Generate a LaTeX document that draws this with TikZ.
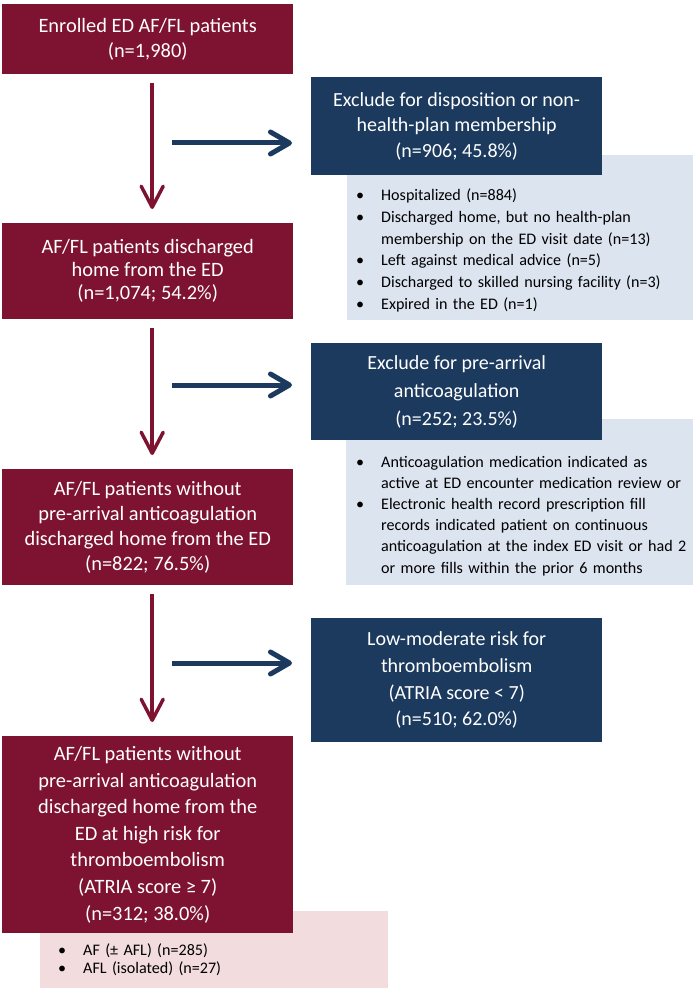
\documentclass[tikz,border=0pt]{standalone}
\usepackage{fontspec}
\setmainfont{Carlito}
\usetikzlibrary{arrows.meta}
\definecolor{maroon}{HTML}{7E1331}
\definecolor{navy}{HTML}{1B3A5E}
\definecolor{lightblu}{HTML}{DCE4F0}
\definecolor{pinkish}{HTML}{F2DCDD}
\newcommand\bitem[1]{\hangindent=25pt\hangafter=1\noindent\makebox[25pt][l]{\textbullet}#1\par}
\newcommand\nl{\hfil\break}
\begin{document}
\begin{tikzpicture}[x=1pt,y=-1pt,
  box/.style={anchor=north west, inner sep=0pt, align=center, text=white,
    font=\fontsize{20}{25.5}\selectfont},
  redbox/.style={box, fill=maroon},
  navybox/.style={box, fill=navy},
  listbox/.style={anchor=north west, inner sep=0pt},
  bullets/.style={anchor=base west, inner sep=0pt, text width=335pt,
    font=\fontsize{16.1}{21.6}\selectfont},
  redarrow/.style={draw=maroon, line width=3.5pt,
    -{Straight Barb[length=21pt, width=22pt, line cap=round, line join=round]},
    shorten <=9pt, shorten >=14pt},
  bluearrow/.style={draw=navy, line width=5pt,
    -{Straight Barb[length=19pt, width=22pt, line cap=round, line join=round]},
    shorten >=19pt}
]
\useasboundingbox (0,0) rectangle (695,992);
% light list boxes (behind)
\node[listbox, fill=lightblu, minimum width=346pt, minimum height=165pt] (l1) at (347,155) {};
\node[listbox, fill=lightblu, minimum width=347pt, minimum height=166pt] (l2) at (346,419) {};
\node[listbox, fill=pinkish, minimum width=348pt, minimum height=77pt] (l3) at (40,911) {};
% red boxes
\node[redbox, minimum width=291pt, minimum height=70pt, font=\fontsize{20.4}{25.5}\selectfont] (r1) at (2,4)
  {Enrolled ED AF/FL patients\\(n=1,980)};
\node[redbox, minimum width=291pt, minimum height=96pt, font=\fontsize{20.4}{23}\selectfont] (r2) at (2,223)
  {AF/FL patients discharged\\home from the ED\\(n=1,074; 54.2\%)};
\node[redbox, minimum width=291pt, minimum height=116pt, font=\fontsize{20.4}{25.2}\selectfont] (r3) at (2,469)
  {AF/FL patients without\\pre-arrival anticoagulation\\discharged home from the ED\\(n=822; 76.5\%)};
\node[redbox, minimum width=291pt, minimum height=197pt, font=\fontsize{20.4}{26.6}\selectfont] (r4) at (2,736)
  {AF/FL patients without\\pre-arrival anticoagulation\\discharged home from the\\ED at high risk for\\thromboembolism\\(ATRIA score ≥ 7)\\(n=312; 38.0\%)};
% navy boxes
\node[navybox, minimum width=291pt, minimum height=98pt] (b1) at (311,77)
  {Exclude for disposition or non-\\health-plan membership\\(n=906; 45.8\%)};
\node[navybox, minimum width=291pt, minimum height=97pt, font=\fontsize{20}{28}\selectfont] (b2) at (311,343)
  {Exclude for pre-arrival\\anticoagulation\\(n=252; 23.5\%)};
\node[navybox, minimum width=291pt, minimum height=124pt, font=\fontsize{20}{26.6}\selectfont] (b3) at (311,618)
  {Low-moderate risk for\\thromboembolism\\(ATRIA score < 7)\\(n=510; 62.0\%)};
% bullet lists
\node[bullets] (t1) at (356,201) {%
  \bitem{Hospitalized (n=884)}%
  \bitem{Discharged home, but no health-plan\nl membership on the ED visit date (n=13)}%
  \bitem{Left against medical advice (n=5)}%
  \bitem{Discharged to skilled nursing facility (n=3)}%
  \bitem{Expired in the ED (n=1)}};
\node[bullets, font=\fontsize{16.1}{21.2}\selectfont] (t2) at (356,467) {%
  \bitem{Anticoagulation medication indicated as\nl active at ED encounter medication review or}%
  \bitem{Electronic health record prescription fill\nl records indicated patient on continuous\nl anticoagulation at the index ED visit or had 2\nl or more fills within the prior 6 months}};
\node[bullets, font=\fontsize{16.1}{18.5}\selectfont] (t3) at (58,955) {%
  \bitem{AF (± AFL) (n=285)}%
  \bitem{AFL (isolated) (n=27)}};
% vertical arrows
\draw[redarrow] ([xshift=4.5pt]r1.south) -- ([xshift=4.5pt]r2.north);
\draw[redarrow] ([xshift=4.5pt]r2.south) -- ([xshift=4.5pt]r3.north);
\draw[redarrow] ([xshift=4.5pt]r3.south) -- ([xshift=4.5pt]r4.north);
% horizontal arrows
\coordinate (s1) at (172,143);
\coordinate (s2) at (172,385);
\coordinate (s3) at (172,663);
\draw[bluearrow] (s1) -- (s1 -| b1.west);
\draw[bluearrow] (s2) -- (s2 -| b2.west);
\draw[bluearrow] (s3) -- (s3 -| b3.west);
\end{tikzpicture}
\end{document}
